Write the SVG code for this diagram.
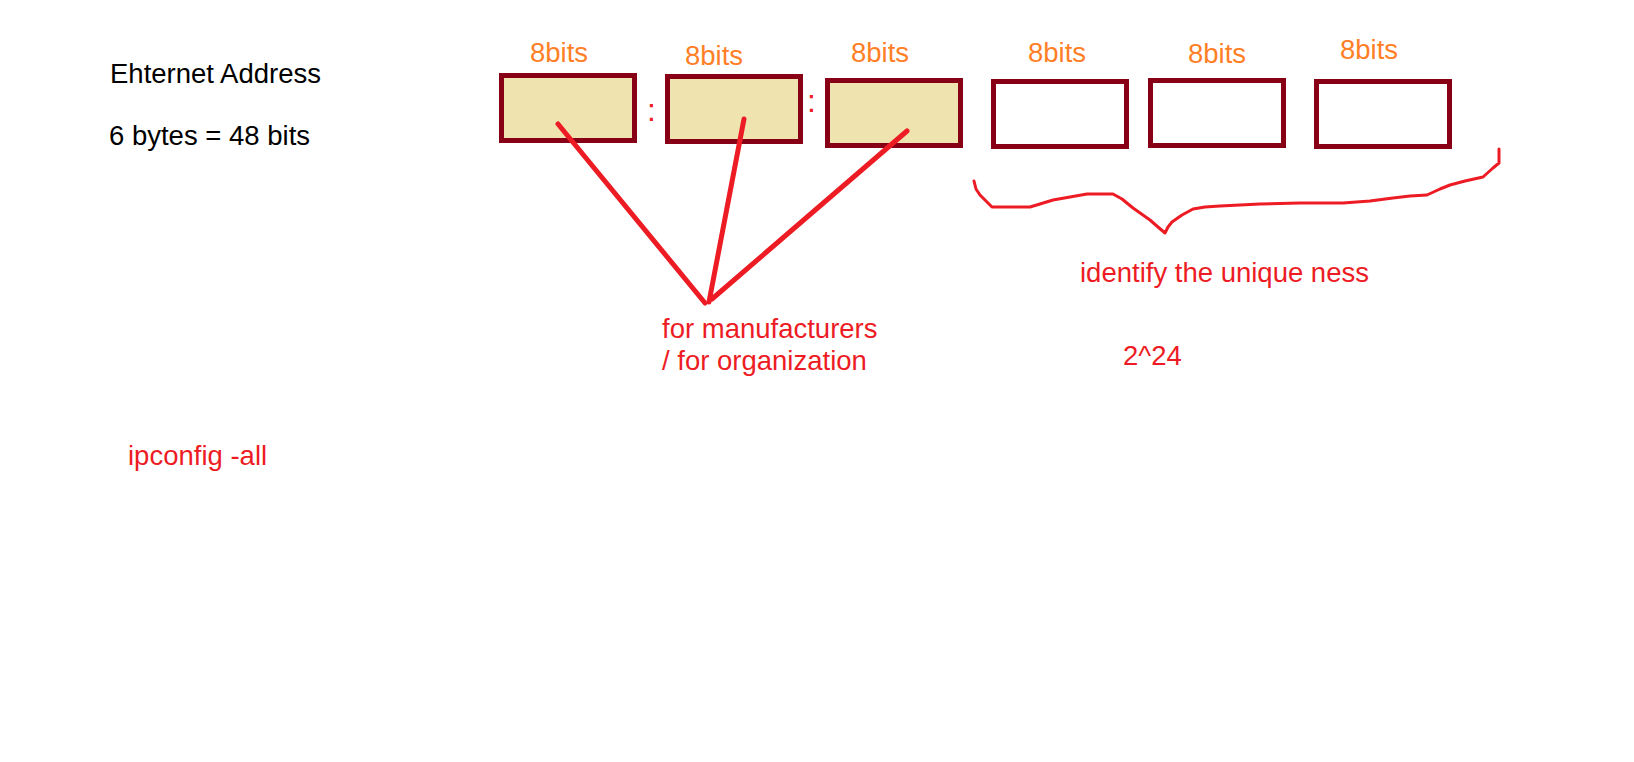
<svg xmlns="http://www.w3.org/2000/svg" width="1634" height="762" viewBox="0 0 1634 762">
<style>
.box{stroke:#880015;stroke-width:5;}
.mfr{fill:#EFE4B0;}
.uniq{fill:#FFFFFF;}
.bits{font-family:"Liberation Sans",Arial,sans-serif;font-size:27.5px;fill:#FF7F27;}
.blk{font-family:"Liberation Sans",Arial,sans-serif;font-size:27.5px;fill:#000000;}
.red{font-family:"Liberation Sans",Arial,sans-serif;font-size:27.5px;fill:#ED1C24;}
.colon{font-family:"Liberation Sans",Arial,sans-serif;font-size:32px;fill:#ED1C24;text-anchor:middle;}
.conn{stroke:#ED1C24;stroke-width:5;stroke-linecap:round;fill:none;}
.brace{stroke:#ED1C24;stroke-width:3;stroke-linejoin:round;stroke-linecap:round;fill:none;}
</style>
<rect width="1634" height="762" fill="#FFFFFF"/>
<g id="title">
<text class="blk" x="110" y="83">Ehternet Address</text>
<text class="blk" x="109" y="145">6 bytes = 48 bits</text>
</g>
<g id="byte1">
<text class="bits" x="530" y="62">8bits</text>
<rect class="box mfr" x="501.5" y="75.5" width="133" height="65"/>
</g>
<g id="colon1"><text class="colon" x="651.5" y="120.5">:</text></g>
<g id="byte2">
<text class="bits" x="685" y="65">8bits</text>
<rect class="box mfr" x="667.5" y="76.5" width="133" height="65"/>
</g>
<g id="colon2"><text class="colon" x="811.5" y="111.5">:</text></g>
<g id="byte3">
<text class="bits" x="851" y="62">8bits</text>
<rect class="box mfr" x="827.5" y="80.5" width="133" height="65"/>
</g>
<g id="byte4">
<text class="bits" x="1028" y="62">8bits</text>
<rect class="box uniq" x="993.5" y="81.5" width="133" height="65"/>
</g>
<g id="byte5">
<text class="bits" x="1188" y="63">8bits</text>
<rect class="box uniq" x="1150.5" y="80.5" width="133" height="65"/>
</g>
<g id="byte6">
<text class="bits" x="1340" y="59">8bits</text>
<rect class="box uniq" x="1316.5" y="81.5" width="133" height="65"/>
</g>
<g id="connectors">
<line class="conn" x1="558" y1="124" x2="705" y2="303"/>
<line class="conn" x1="744" y1="119" x2="709" y2="302"/>
<line class="conn" x1="907" y1="131" x2="712" y2="299"/>
<path class="brace" d="M974,181 L976,189 L980,195 L986,201 L992,207 L1030,207 L1040,204 L1053,200 L1070,197 L1087,194 L1113,194 L1122,199 L1133,208 L1150,220 L1158,227 L1165,233 L1168,227 L1172,222 L1182,215 L1193,209 L1205,207 L1220,206 L1260,204 L1300,203 L1343,203 L1370,201 L1393,198 L1410,196 L1427,195 L1440,189 L1450,185 L1465,181 L1483,177 L1493,168 L1499,163 L1499,149"/>
</g>
<g id="label-manufacturers">
<text class="red" x="662" y="338">for manufacturers</text>
<text class="red" x="662" y="370">/ for organization</text>
</g>
<g id="label-unique">
<text class="red" x="1080" y="282">identify the unique ness</text>
</g>
<g id="label-count">
<text class="red" x="1123" y="365">2^24</text>
</g>
<g id="label-ipconfig">
<text class="red" x="128" y="465">ipconfig -all</text>
</g>
</svg>
